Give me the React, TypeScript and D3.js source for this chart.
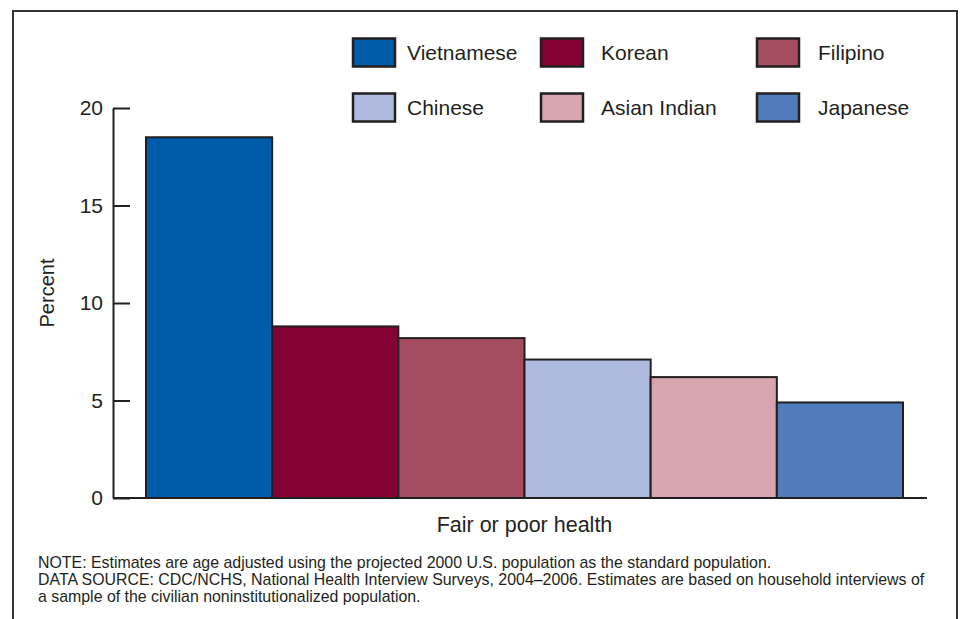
import React, { useRef, useEffect } from 'react';
import * as d3 from 'd3';

// Values
const groups = ['Vietnamese', 'Korean', 'Filipino', 'Chinese', 'Asian Indian', 'Japanese'];
const percents = [18.5, 8.8, 8.2, 7.1, 6.2, 4.9];
const colors = ['#005ba9', '#850033', '#a44d5f', '#aebbde', '#d6a5ad', '#517cbc'];
const yTicks = [0, 5, 10, 15, 20];
const category = 'Fair or poor health';
const notes = [
  'NOTE: Estimates are age adjusted using the projected 2000 U.S. population as the standard population.',
  'DATA SOURCE: CDC/NCHS, National Health Interview Surveys, 2004\u20132006. Estimates are based on household interviews of',
  'a sample of the civilian noninstitutionalized population.'
];

const width = 961;
const height = 619;
const ink = '#231f20';
const font = '"Liberation Sans", Arial, Helvetica, sans-serif';

const App: React.FC = () => {
  const svgRef = useRef<SVGSVGElement>(null);

  useEffect(() => {
    const svg = d3.select(svgRef.current);
    svg.selectAll('*').remove();

    const margin = { top: 108, left: 113, bottom: 121 };
    const plotBottom = height - margin.bottom;

    // outer frame, open at the bottom
    svg.append('path')
      .attr('d', `M13,${height}V11H957V${height}`)
      .attr('fill', 'none')
      .attr('stroke', '#333')
      .attr('stroke-width', 2);

    const y = d3.scaleLinear()
      .domain([0, 20])
      .range([plotBottom, margin.top]);

    const x = d3.scaleBand<string>()
      .domain(groups)
      .range([146, 903])
      .padding(0);

    // bars
    svg.append('g')
      .selectAll('rect')
      .data(groups)
      .enter()
      .append('rect')
      .attr('x', d => x(d) as number)
      .attr('y', (d, i) => y(percents[i]))
      .attr('width', x.bandwidth())
      .attr('height', (d, i) => plotBottom - y(percents[i]))
      .attr('fill', (d, i) => colors[i])
      .attr('stroke', ink)
      .attr('stroke-width', 2);

    // y axis, ticks pointing inward
    const yAxis = d3.axisLeft(y)
      .tickValues(yTicks)
      .tickSizeInner(-17)
      .tickSizeOuter(0)
      .tickPadding(10);

    const ya = svg.append('g')
      .attr('transform', `translate(${margin.left},0)`)
      .call(yAxis);
    ya.selectAll('path, line').attr('stroke', ink).attr('stroke-width', 2);
    ya.selectAll('text')
      .attr('fill', ink)
      .style('font-family', font)
      .style('font-size', '21px');

    // baseline
    svg.append('line')
      .attr('x1', margin.left)
      .attr('x2', 927)
      .attr('y1', plotBottom)
      .attr('y2', plotBottom)
      .attr('stroke', ink)
      .attr('stroke-width', 2);

    // axis titles
    svg.append('text')
      .attr('transform', 'rotate(-90)')
      .attr('x', -293)
      .attr('y', 54)
      .attr('text-anchor', 'middle')
      .attr('fill', ink)
      .style('font-family', font)
      .style('font-size', '20px')
      .text('Percent');

    svg.append('text')
      .attr('x', (146 + 903) / 2)
      .attr('y', 532)
      .attr('text-anchor', 'middle')
      .attr('fill', ink)
      .style('font-family', font)
      .style('font-size', '21.5px')
      .text(category);

    // legend, 3 columns x 2 rows
    const swatchX = [353, 541, 757];
    const labelX = [407, 601, 818];
    const legendRows = [52.5, 107.5];
    const legend = svg.append('g');
    groups.forEach((g, i) => {
      const col = i % 3;
      const ly = legendRows[Math.floor(i / 3)];
      legend.append('rect')
        .attr('x', swatchX[col])
        .attr('y', ly - 14)
        .attr('width', 42)
        .attr('height', 28)
        .attr('fill', colors[i])
        .attr('stroke', ink)
        .attr('stroke-width', 2.5);
      legend.append('text')
        .attr('x', labelX[col])
        .attr('y', ly)
        .attr('dy', '0.35em')
        .attr('fill', ink)
        .style('font-family', font)
        .style('font-size', '21px')
        .text(g);
    });

    // notes
    svg.append('g')
      .selectAll('text')
      .data(notes)
      .enter()
      .append('text')
      .attr('x', 38)
      .attr('y', (d, i) => 568 + i * 16.8)
      .attr('fill', ink)
      .style('font-family', font)
      .style('font-size', '15.9px')
      .text(d => d);
  }, []);

  return (
    <svg
      ref={svgRef}
      width={width}
      height={height}
      style={{ position: 'absolute', left: 0, top: 0, background: '#fff' }}
    />
  );
};

export default App;
